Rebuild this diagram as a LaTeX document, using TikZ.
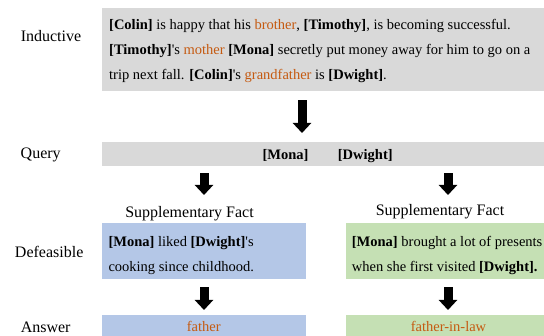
\documentclass[tikz,border=0pt]{standalone}
\usepackage{fontspec}
\setmainfont{Liberation Serif}
\usetikzlibrary{
  positioning,
  calc,
  arrows.meta}
\definecolor{storycolor}{RGB}{217,217,217}
\definecolor{factlcolor}{RGB}{180,199,231}
\definecolor{factrcolor}{RGB}{197,224,180}
\definecolor{relcolor}{RGB}{197,90,17}
\newcommand{\ent}[1]{\textbf{[#1]}}
\newcommand{\rel}[1]{\textcolor{relcolor}{#1}}
\newcommand{\ap}{\textquotesingle}
\tikzset{
  %% rowlabel : name of a row, on the left
  rowlabel/.style={
    font=\fontsize{16}{19}\selectfont,
    anchor=base,
    inner sep=0pt
  },
  %% panel : a filled box, its text is set apart
  panel/.style={
    rectangle,
    anchor=north west,
    inner sep=0pt
  },
  %% body : the text inside a panel
  %% (base is the baseline of the last line)
  body/.style={
    font=\fontsize{14.5}{25}\selectfont,
    align=left,
    anchor=base west,
    inner sep=0pt
  },
  %% down : thick block arrow
  down/.style={
    line width=9pt,
    -{Triangle[length=10pt,width=18pt]}
  }
}

\begin{document}
\begin{tikzpicture}
  [x=1pt,
  y=-1pt]
  \useasboundingbox (0,0) rectangle (544,336);

  %% row labels
  \node (lab_ind) [rowlabel] at (51,41.5) {Inductive};
  \node (lab_query) [rowlabel] at (40.7,158.3) {Query};
  \node (lab_def) [rowlabel] at (49.2,257.3) {Defeasible};
  \node (lab_ans) [rowlabel] at (45.7,332.7) {Answer};

  %% inductive story
  \node (induct) [panel, fill=storycolor, minimum width=442pt,
    minimum height=83pt] at (102,8) {};
  \node (induct_txt) [body] at (109,79.5) {%
    \ent{Colin} is happy that his \rel{brother}, \ent{Timothy}, is becoming successful.\\
    \ent{Timothy}\ap s \rel{mother} \ent{Mona} secretly put money away for him to go on a\\
    trip next fall. \ent{Colin}\ap s \rel{grandfather} is \ent{Dwight}.};

  %% query
  \node (query) [panel, fill=storycolor, minimum width=442pt,
    minimum height=24pt] at (102,142) {};
  \node (query_txt) [body] at (262.3,159.3) {%
    \ent{Mona}\hspace{29.5pt}\ent{Dwight}};

  %% supplementary facts
  \node (supl) [rowlabel] at (189.5,217.3) {Supplementary Fact};
  \node (supr) [rowlabel] at (440,215.5) {Supplementary Fact};

  \node (factl) [panel, fill=factlcolor, minimum width=204pt,
    minimum height=56pt] at (102,223) {};
  \node (factl_txt) [body] at (108.3,271.7) {%
    \ent{Mona} liked \ent{Dwight}\ap s\\
    cooking since childhood.};

  \node (factr) [panel, fill=factrcolor, minimum width=198pt,
    minimum height=56pt] at (346,223) {};
  \node (factr_txt) [body] at (351.7,271.7) {%
    \ent{Mona} brought a lot of presents\\
    when she first visited \textbf{[Dwight].}};

  %% answers
  \node (ansl) [panel, fill=factlcolor, minimum width=204pt,
    minimum height=21pt] at (102,315) {};
  \node (ansl_txt) [body, anchor=base] at (203.7,331.7) {\rel{father}};

  \node (ansr) [panel, fill=factrcolor, minimum width=198pt,
    minimum height=21pt] at (346,315) {};
  \node (ansr_txt) [body, anchor=base] at (448.5,331.7) {\rel{father-in-law}};

  %% Connections
  \coordinate (split) at (302,0);
  \coordinate (coll) at (204,0);
  \coordinate (colr) at (448,0);

  \draw [down, shorten <=9pt, shorten >=9pt]
    (split |- induct.south) -- (split |- query.north);
  \draw [down, shorten <=7pt, shorten >=28pt]
    (coll |- query.south) -- (coll |- factl.north);
  \draw [down, shorten <=7pt, shorten >=28pt]
    (colr |- query.south) -- (colr |- factr.north);
  \draw [down, shorten <=8pt, shorten >=5pt]
    (coll |- factl.south) -- (coll |- ansl.north);
  \draw [down, shorten <=8pt, shorten >=5pt]
    (colr |- factr.south) -- (colr |- ansr.north);

\end{tikzpicture}
\end{document}
